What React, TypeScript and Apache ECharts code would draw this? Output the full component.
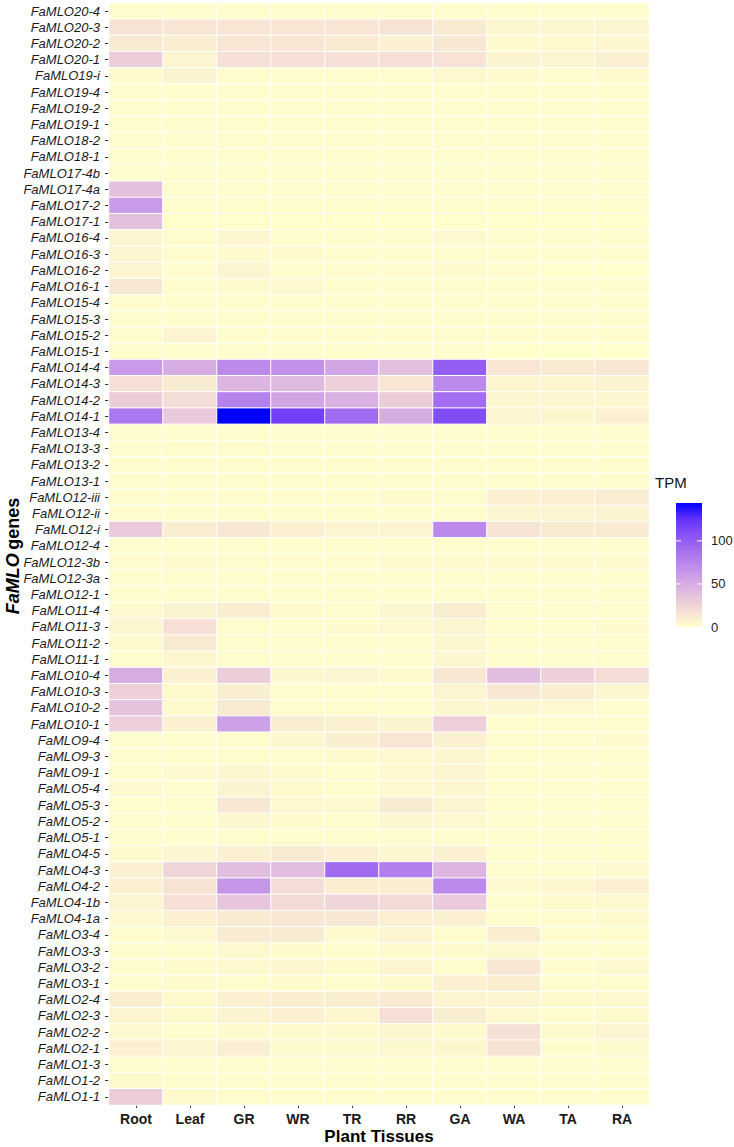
import React, { useEffect, useRef } from "react";
import * as echarts from "echarts";

const genes = [
  "FaMLO20-4", "FaMLO20-3", "FaMLO20-2", "FaMLO20-1", "FaMLO19-i", "FaMLO19-4", "FaMLO19-2", "FaMLO19-1",
  "FaMLO18-2", "FaMLO18-1", "FaMLO17-4b", "FaMLO17-4a", "FaMLO17-2", "FaMLO17-1", "FaMLO16-4", "FaMLO16-3",
  "FaMLO16-2", "FaMLO16-1", "FaMLO15-4", "FaMLO15-3", "FaMLO15-2", "FaMLO15-1", "FaMLO14-4", "FaMLO14-3",
  "FaMLO14-2", "FaMLO14-1", "FaMLO13-4", "FaMLO13-3", "FaMLO13-2", "FaMLO13-1", "FaMLO12-iii", "FaMLO12-ii",
  "FaMLO12-i", "FaMLO12-4", "FaMLO12-3b", "FaMLO12-3a", "FaMLO12-1", "FaMLO11-4", "FaMLO11-3", "FaMLO11-2",
  "FaMLO11-1", "FaMLO10-4", "FaMLO10-3", "FaMLO10-2", "FaMLO10-1", "FaMLO9-4", "FaMLO9-3", "FaMLO9-1",
  "FaMLO5-4", "FaMLO5-3", "FaMLO5-2", "FaMLO5-1", "FaMLO4-5", "FaMLO4-3", "FaMLO4-2", "FaMLO4-1b",
  "FaMLO4-1a", "FaMLO3-4", "FaMLO3-3", "FaMLO3-2", "FaMLO3-1", "FaMLO2-4", "FaMLO2-3", "FaMLO2-2",
  "FaMLO2-1", "FaMLO1-3", "FaMLO1-2", "FaMLO1-1",
];

const tissues = ["Root", "Leaf", "GR", "WR", "TR", "RR", "GA", "WA", "TA", "RA"];

// TPM values per tissue, ordered as genes (top to bottom)
const rootTPM = [1,16,12,30,3,1,1,1,2,2, 1,38,62,38,6,6,6,14,2,1, 2,1,62,18,30,85,1,1,1,1, 1,2,32,1,1,1,1,4,5,3, 2,50,28,36,28,2,2,2,4,2, 2,2,3,8,8,6,4,2,2,2, 2,10,6,4,8,1,3,30];
const leafTPM = [1,15,10,6,7,1,1,2,1,1, 1,1,1,0,2,2,1,1,1,1, 6,1,50,12,20,32,1,2,1,1, 1,1,10,1,3,2,1,7,18,12, 5,8,3,3,8,2,2,4,2,1, 1,1,6,25,16,18,8,4,2,3, 3,3,3,2,6,1,1,3];
const grTPM = [1,15,15,18,2,1,1,1,1,1, 1,1,1,0,5,3,6,3,1,1, 1,1,72,45,78,144,1,2,1,1, 1,1,14,1,2,1,1,10,2,2, 2,30,10,12,58,2,2,5,7,14, 5,2,8,40,65,35,12,12,4,4, 2,8,7,3,10,1,1,2];
const wrTPM = [1,15,15,18,1,1,1,1,1,1, 1,1,1,0,1,3,2,4,1,1, 1,1,68,42,55,118,1,1,1,1, 1,1,8,1,1,1,1,3,2,2, 1,5,2,2,10,5,2,3,3,4, 3,2,12,40,20,22,14,12,3,5, 3,10,8,3,3,1,1,1];
const trTPM = [1,15,12,18,2,1,1,1,1,1, 1,1,1,0,1,1,1,1,1,1, 1,1,55,28,48,92,1,1,1,1, 1,1,6,1,1,1,1,2,3,1, 1,6,2,2,8,10,3,2,2,4, 2,2,8,92,10,25,14,3,2,3, 2,10,5,3,3,1,1,1];
const rrTPM = [1,16,8,18,1,1,1,1,1,1, 1,1,1,0,1,1,1,1,1,1, 1,1,38,15,30,50,1,1,1,1, 3,1,6,1,3,1,1,5,4,1, 1,3,2,2,7,15,4,4,4,12, 5,2,5,80,10,22,8,6,3,6, 3,12,18,5,4,1,1,1];
const gaTPM = [1,12,14,17,4,1,1,1,1,1, 1,1,1,0,4,2,3,2,1,1, 2,1,100,72,90,110,1,1,1,1, 2,1,72,1,3,2,1,10,6,5, 5,14,6,5,28,8,5,6,5,6, 4,2,8,45,72,32,8,2,3,2, 8,6,10,3,5,1,1,1];
const waTPM = [1,5,3,7,3,1,1,1,1,1, 1,1,1,0,1,1,1,1,1,1, 1,0,15,5,5,6,1,1,1,1, 8,6,16,1,3,1,2,1,1,1, 1,40,14,5,2,2,1,1,1,1, 1,1,1,2,4,2,2,10,4,14, 10,6,4,18,16,1,1,1];
const taTPM = [1,5,3,6,1,1,1,1,1,1, 1,1,1,0,1,1,0,1,1,1, 1,0,12,5,5,5,1,1,1,1, 8,6,12,1,3,1,1,2,2,1, 1,28,10,4,2,2,2,1,1,1, 1,1,1,2,5,3,2,2,1,1, 1,3,2,3,2,1,1,1];
const raTPM = [1,6,5,9,3,1,1,1,1,1, 1,1,1,0,1,1,0,1,1,1, 1,0,14,7,5,8,1,1,1,1, 11,7,12,1,3,1,1,2,3,2, 2,20,5,2,2,3,2,1,1,1, 1,1,1,4,8,4,3,2,1,4, 2,4,3,6,3,1,1,1];

const tpmByTissue = [rootTPM, leafTPM, grTPM, wrTPM, trTPM, rrTPM, gaTPM, waTPM, taTPM, raTPM];

const tpmMin = 0;
const tpmMax = 144;
const legendTicks = [0, 50, 100];
const palette = ["#FFFFCC", "#F6E0D5", "#E5C3DD", "#D2A7E4", "#BC8AEB", "#A46EF0", "#8751F6", "#6031FA", "#0000FF"];

const FONT = "'Liberation Sans', Arial, Helvetica, sans-serif";

export default function App() {
  const ref = useRef<HTMLDivElement>(null);

  useEffect(() => {
    document.body.style.margin = "0";
    const chart = echarts.init(ref.current!, null, { renderer: "svg" });

    const data: number[][] = [];
    tpmByTissue.forEach((col, ti) => {
      col.forEach((v, gi) => data.push([ti, gi, v]));
    });

    const gridLeft = 109, gridRight = 85, gridTop = 3, gridBottom = 42;
    const W = 734, H = 1147;
    const plotCx = gridLeft + (W - gridLeft - gridRight) / 2;
    const plotCy = gridTop + (H - gridTop - gridBottom) / 2;

    const barX = 676, barTop = 503, barW = 26, barH = 124;
    const barBottom = barTop + barH;
    const valToY = (v: number) => barBottom - ((v - tpmMin) / (tpmMax - tpmMin)) * barH;

    const gradStops = palette
      .slice()
      .reverse()
      .map((c, i) => ({ offset: i / (palette.length - 1), color: c }));

    const graphics: any[] = [
      {
        type: "text",
        x: 13,
        y: plotCy + 2,
        rotation: Math.PI / 2,
        style: {
          text: "{a|FaMLO} {b|genes}",
          textAlign: "center",
          textVerticalAlign: "middle",
          rich: {
            a: { fontSize: 18, fontWeight: "bold", fontStyle: "italic", fill: "#000", fontFamily: FONT },
            b: { fontSize: 18, fontWeight: "bold", fill: "#000", fontFamily: FONT },
          },
        },
      },
      {
        type: "text",
        x: plotCx,
        y: 1136,
        style: {
          text: "Plant Tissues",
          textAlign: "center",
          textVerticalAlign: "middle",
          fontSize: 17,
          fontWeight: "bold",
          fontFamily: FONT,
          fill: "#000",
        },
      },
      {
        type: "text",
        left: 655,
        top: 475,
        style: { text: "TPM", fontSize: 15, fontFamily: FONT, fill: "#111" },
      },
      {
        type: "rect",
        shape: { x: barX, y: barTop, width: barW, height: barH },
        style: { fill: new echarts.graphic.LinearGradient(0, 0, 0, 1, gradStops) },
      },
    ];
    legendTicks.forEach((t) => {
      const y = valToY(t);
      graphics.push({
        type: "line",
        shape: { x1: barX, y1: y, x2: barX + 5, y2: y },
        style: { stroke: "#fff", lineWidth: 1 },
      });
      graphics.push({
        type: "line",
        shape: { x1: barX + barW - 5, y1: y, x2: barX + barW, y2: y },
        style: { stroke: "#fff", lineWidth: 1 },
      });
      graphics.push({
        type: "text",
        x: barX + barW + 9,
        y,
        style: {
          text: String(t),
          fontSize: 13,
          fontFamily: FONT,
          fill: "#222",
          textVerticalAlign: "middle",
          textAlign: "left",
        },
      });
    });

    chart.setOption({
      animation: false,
      backgroundColor: "#ffffff",
      grid: { left: gridLeft, right: gridRight, top: gridTop, bottom: gridBottom, containLabel: false, outerBoundsMode: "none" },
      xAxis: {
        type: "category",
        data: tissues,
        axisLine: { show: false },
        axisTick: { show: true, alignWithLabel: true, interval: 0, length: 3, lineStyle: { color: "#333" } },
        axisLabel: { interval: 0, fontSize: 14, fontWeight: "bold", color: "#1a1a1a", margin: 7, fontFamily: FONT },
        splitLine: { show: false },
      },
      yAxis: {
        type: "category",
        data: genes,
        inverse: true,
        axisLine: { show: false },
        axisTick: { show: true, alignWithLabel: true, interval: 0, length: 4, lineStyle: { color: "#333" } },
        axisLabel: { interval: 0, fontSize: 13, fontStyle: "italic", color: "#1a1a1a", margin: 9, fontFamily: FONT },
        splitLine: { show: false },
      },
      visualMap: {
        type: "continuous",
        show: false,
        min: tpmMin,
        max: tpmMax,
        dimension: 2,
        inRange: { color: palette },
      },
      graphic: graphics,
      series: [
        {
          type: "heatmap",
          data,
          itemStyle: { borderColor: "#ffffff", borderWidth: 1 },
          emphasis: { disabled: true },
        },
      ],
    });

    return () => chart.dispose();
  }, []);

  return <div ref={ref} style={{ width: 734, height: 1147 }} />;
}
